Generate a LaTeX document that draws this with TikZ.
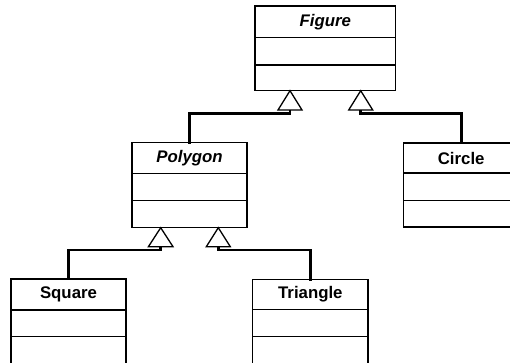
\documentclass[tikz,border=0pt]{standalone}
\usepackage{fontspec}
\setmainfont{Liberation Sans}
\usetikzlibrary{calc}

\tikzset{
  part/.style={draw=black, line width=1.4pt, fill=white, inner sep=0pt, outer sep=0pt,
               anchor=north west, minimum width=115pt},
  head/.style={part, font=\fontsize{16.8}{19}\selectfont\bfseries},
  conn/.style={draw=black, line width=2.6pt, line cap=rect},
  gen/.style={draw=black, line width=1.3pt, fill=white, line join=miter},
}

% one class box: name, x, y, width, three compartment heights, title
\newcommand{\umlclassbox}[8]{%
  \node[head, minimum width=#4pt, minimum height=#5pt] (#1) at (#2,#3) {#8};
  \node[part, minimum width=#4pt, minimum height=#6pt] (#1-attr) at (#1.south west) {};
  \node[part, minimum width=#4pt, minimum height=#7pt] (#1-ops) at (#1-attr.south west) {};
}

\begin{document}
\begin{tikzpicture}[x=1pt, y=-1pt]
  \useasboundingbox (0,0) rectangle (510,363);
  \clip (0,0) rectangle (510,363);

  % classes
  \umlclassbox{fig}{255}{6}{140.7}{31.7}{27.3}{25.7}{\textit{Figure}}
  \umlclassbox{poly}{132}{142.7}{115}{30.6}{27.4}{27}{\textit{Polygon}}
  \umlclassbox{circ}{403.7}{143.2}{115}{29.8}{27.5}{26.5}{Circle}
  \umlclassbox{sq}{11}{279}{115}{31}{26.7}{40}{Square}
  \umlclassbox{tri}{252.7}{279.2}{115.3}{30.5}{27}{40}{Triangle}

  % generalisation heads under Figure
  \coordinate (figA) at ($(fig-ops.south west)+(35,0)$);
  \coordinate (figB) at ($(fig-ops.south west)+(105.7,0)$);
  \coordinate (figAb) at ($(figA)+(0,19.3)$);
  \coordinate (figBb) at ($(figB)+(0,19.3)$);

  % generalisation heads under Polygon
  \coordinate (polyA) at ($(poly-ops.south west)+(28.7,0)$);
  \coordinate (polyB) at ($(poly-ops.south west)+(86.3,0)$);
  \coordinate (polyAb) at ($(polyA)+(0,19)$);
  \coordinate (polyBb) at ($(polyB)+(0,19)$);

  % connectors
  \draw[conn] (figAb) -- ++(0,3.7) -| (poly.north);
  \draw[conn] (figBb) -- ++(0,3.7) -| (circ.north);
  \draw[conn] (polyAb) -- ++(0,3.3) -| (sq.north);
  \draw[conn] (polyBb) -- ++(0,3.3) -| (tri.north);

  % hollow triangles
  \draw[gen] (figA) -- ($(figAb)+(-12,0)$) -- ($(figAb)+(12,0)$) -- cycle;
  \draw[gen] (figB) -- ($(figBb)+(-12,0)$) -- ($(figBb)+(12,0)$) -- cycle;
  \draw[gen] (polyA) -- ($(polyAb)+(-12.3,0)$) -- ($(polyAb)+(12.3,0)$) -- cycle;
  \draw[gen] (polyB) -- ($(polyBb)+(-12,0)$) -- ($(polyBb)+(12,0)$) -- cycle;
\end{tikzpicture}
\end{document}
